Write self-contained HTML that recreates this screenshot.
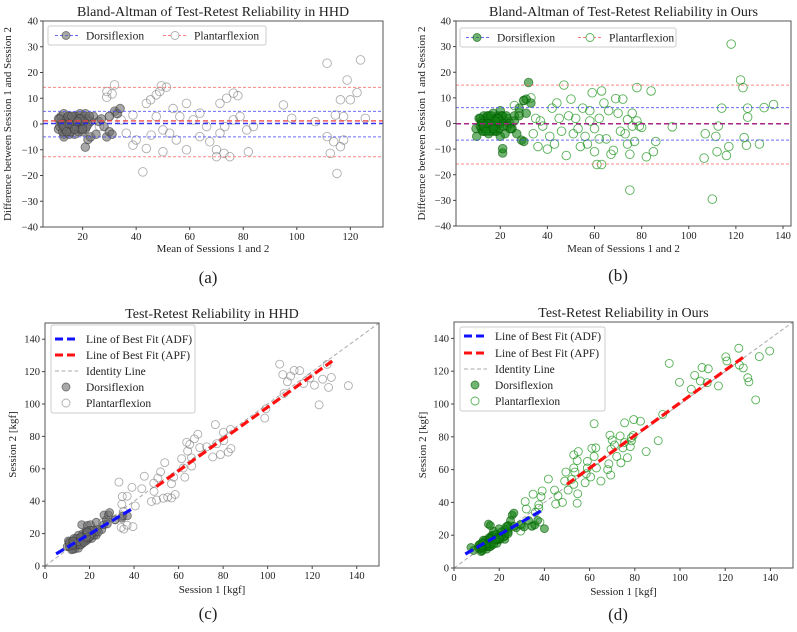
<!DOCTYPE html>
<html><head><meta charset="utf-8">
<style>
html,body{margin:0;padding:0;background:#fff;}
svg, svg text{font-family:"Liberation Serif","Times New Roman",serif;}
svg text{fill:#222;}
</style></head>
<body>
<svg id="fig" width="797" height="627" viewBox="0 0 797 627" font-family="Liberation Serif, serif" xmlns="http://www.w3.org/2000/svg"></svg>
<script>
// ---- HHD data (mean of sessions, difference S1-S2) ----
const hhdDorsiMean=[11,12,12,13,13,13,14,14,15,15,16,16,17,17,18,18,19,19,20,20,21,21,22,22,23,24,26,28,29,30,31,32,33,34,12,14,16,18,20,13,15,17,19,21,23,11,22,30,25,27,11.5,12.5,13.5,14.5,15.5,16.5,17.5,18.5,19.5,20.5,11.5,12.5,13.5,14.5,15.5,16.5,17.5,18.5,19.5,20.5,21.5,22.5,13,15,17,19,14,16,18,20];
const hhdDorsiDiff=[-2,1,3,-4,0,4,-3,2,-1,3,0,-2,2,-4,1,3,-2,4,0,-3,-9,4,-6,2,-5,3,1,-1,-5,-3,-4,5,4,6,0,-1,1,0,2,-5,-4,3,-1,-2,1,2,0,3,-4,2,-1,-3,1,-2,2,-1,0,-3,1,3,2,0,-2,3,-3,1,-1,2,-2,1,-1,3,-1,0,-2,2,-3,3,1,-2];
const hhdPlantMean=[29.1,31.9,29,31,43.8,45.4,47.5,48.8,49.4,51.3,42.5,50,43.8,40,38.8,58.8,53.8,58.8,67.5,70,71.3,73.8,76.3,78,70,75,72.8,81.9,81.3,76.3,66.3,63.8,61.3,56.3,52.5,47.5,45.6,38.8,36.3,34.4,32.5,26.3,30,83.8,78.8,71.3,63.8,55,50,73.1,95,98.1,106.9,111.3,123.8,118.8,116.3,120,122.5,125.6,111.3,112.5,115,116.3,117.5,113.8,114.4,117.5];
const hhdPlantDiff=[12.6,15.2,10.4,11.7,8,9.4,11.3,12.6,14.8,14.3,-18.6,-10.8,-9.5,-6.2,-8.2,8,6,-10,-6.9,-10,8,10,12,11,-12.7,-12.7,-11.4,-10.8,-2.3,1.6,-1,4.2,1.6,2.9,-3.6,2.9,-4.3,3.5,-3.6,1.6,4.2,-1,2.9,-1,2.9,-3.6,-4.9,-6.2,-2.3,-1,7.4,2.2,0.9,23.6,24.9,17.1,9.4,9.4,12.2,2.2,-4.9,-11.4,-19.2,-8.8,-6.2,-6.9,3.5,2.9];
// ---- Ours data ----
const oursDorsiMean=[10,11,12,12,13,13,14,14,15,15,16,16,17,17,18,18,19,19,20,20,21,21,22,22,23,24,25,26,27,28,29,30,30,31,32,33,20,21,9.7,14,16,18,12,15,17,19,23,26,28,31,11.5,12.5,13.5,14.5,15.5,16.5,17.5,18.5,19.5,20.5,11.5,12.5,13.5,14.5,15.5,16.5,17.5,18.5,19.5,20.5,21.5,22.5,24.5,13,15,17,19,14,16,18];
const oursDorsiDiff=[-5,2,-2,1,3,-3,0,2,-4,3,1,-2,4,-1,2,-3,0,3,-5,5,-11.5,-9.8,1,-4,2,0,-2,3,-4,6,-6.5,-7,9,9.5,16,8,0,3,-2,-1,1,-2,0,1,-3,2,-1,1,3,4,-1,-3,1,-2,2,-1,0,-3,1,3,2,0,-2,3,-3,1,-1,2,-2,1,-1,3,-2,-1,0,-2,2,-3,3,1];
const oursPlantMean=[47,45,42,40,44,48,50,52,54,55,56,58,59,60,61,62,63,63,64,65,67,68,69,70,72,73,74,75,75,76,77,78,78,79,80,82,84,85,86,93,106.5,107,110,111.5,112,112.5,114,116,117,118,122,123,123.5,124.5,125,125,130,132,136,35,36,37,38,41,43,46,49,51,53,57,58,60,62,66,71,74,76,30,33,34,28,26,24];
const oursPlantDiff=[15,2,6,-10,8,-12.5,9.5,2,-9,6,-5,5,12,-11,-16,2,12.7,-16,8,-6,-12,-10.5,9.7,4,9.5,-4,1.5,-12,-26,4,-7,14,1,-1,-1.5,-13,12.7,-11,-7,-1.3,-13.5,-4,-29.5,-5,-11,-1,6,-12.5,-9,31,17,14,-5.5,-8.5,6,2.5,-8,6.2,7.4,2,-9,1,-1,-5,-8,-3,3,-4,-2,-8,1,-2,-6,5,-3,-8,-1,9,10,-4,4,7,-2];
// limits of agreement / means [dorsiMean, dorsiUp, dorsiLo, plantMean, plantUp, plantLo]
const hhdLines=[0.2,4.9,-5.0,1.2,14.2,-12.7];
const oursLines=[-0.1,6.2,-6.5,-0.1,15.0,-15.8];
// best fit lines [x0,y0,x1,y1]
const hhdFitADF=[5,7.5,40,36];
const hhdFitAPF=[50,49,129,126.5];
const oursFitADF=[5,8.5,40,36];
const oursFitAPF=[50,51,128,128.5];
const baTicksY=[-40,-30,-20,-10,0,10,20,30,40];
const baTicksXa=[20,40,60,80,100,120];
const baTicksXb=[20,40,60,80,100,120,140];
const scTicks=[0,20,40,60,80,100,120,140];

const NS="http://www.w3.org/2000/svg";
const FONT='"Liberation Serif", "Times New Roman", serif';
const svg=document.getElementById('fig');
function el(tag,attrs,parent,txt){const e=document.createElementNS(NS,tag);for(const k in attrs)e.setAttribute(k,attrs[k]);if(tag==='text')e.style.fontFamily=FONT;if(txt!==undefined)e.textContent=txt;(parent||svg).appendChild(e);return e;}

function panel(cfg){
  const g=el('g',{});
  
  
  const X=v=>cfg.L+(v-cfg.x0)*(cfg.R-cfg.L)/(cfg.x1-cfg.x0);
  const Y=v=>cfg.B-(v-cfg.y0)*(cfg.B-cfg.T)/(cfg.y1-cfg.y0);
  const clipId='clip'+cfg.name;
  const cp=el('clipPath',{id:clipId},g);el('rect',{x:cfg.L,y:cfg.T,width:cfg.R-cfg.L,height:cfg.B-cfg.T},cp);
  const pl=el('g',{'clip-path':'url(#'+clipId+')'},g);
  
  
  return {g,pl,X,Y};
}
function axesFrame(cfg,p,xt,yt){
  const fr=el('rect',{x:cfg.L,y:cfg.T,width:cfg.R-cfg.L,height:cfg.B-cfg.T,fill:'none',stroke:'#555','stroke-width':1},p.g);
  
  
  xt.forEach(v=>{const x=p.X(v);el('line',{x1:x,x2:x,y1:cfg.B,y2:cfg.B+3,stroke:'#444'},p.g);
    const t=el('text',{x:x,y:cfg.B+13,'text-anchor':'middle','font-size':10.5},p.g,String(v));
    
    });
  yt.forEach(v=>{const y=p.Y(v);el('line',{x1:cfg.L-3,x2:cfg.L,y1:y,y2:y,stroke:'#444'},p.g);
    const t=el('text',{x:cfg.L-5,y:y+3.5,'text-anchor':'end','font-size':10.5},p.g,v<0?'\u2212'+(-v):String(v));
    
    });
  const ti=el('text',{x:(cfg.L+cfg.R)/2,y:cfg.T-5,'text-anchor':'middle','font-size':14},p.g,cfg.title);
  
  
  const xl=el('text',{x:(cfg.L+cfg.R)/2,y:cfg.xlY,'text-anchor':'middle','font-size':11},p.g,cfg.xlabel);
  
  
  const yl=el('text',{x:0,y:0,'text-anchor':'middle','font-size':11,transform:'translate('+cfg.ylX+','+((cfg.T+cfg.B)/2)+') rotate(-90)'},p.g,cfg.ylabel);
  
  
  const sl=el('text',{x:cfg.subX,y:cfg.subY,'text-anchor':'middle','font-size':17},p.g,cfg.sub);
  
  
}
function hline(p,cfg,v,color,w,dash,op){el('line',{x1:cfg.L,x2:cfg.R,y1:p.Y(v),y2:p.Y(v),stroke:color,'stroke-width':w,'stroke-dasharray':dash,opacity:op},p.pl);}
function dot(parent,x,y,fill,stroke,name,r){
  const c=el('circle',{cx:x,cy:y,r:r||4.3,fill:fill,stroke:stroke,'stroke-width':0.9},parent);
  
  
}

function baPanel(cfg,dm,dd,pm,pd,lines,dFill,dStroke,pStroke){
  const p=panel(cfg);
  pm.forEach((m,i)=>dot(p.pl,p.X(m),p.Y(pd[i]),'none',pStroke,'plantarflexion-point'));
  dm.forEach((m,i)=>dot(p.pl,p.X(m),p.Y(dd[i]),dFill,dStroke,'dorsiflexion-point'));
  hline(p,cfg,lines[1],'#4a4aff',1,'3,2',0.8);hline(p,cfg,lines[2],'#4a4aff',1,'3,2',0.8);
  hline(p,cfg,lines[4],'#ff6a6a',1,'3,2',0.8);hline(p,cfg,lines[5],'#ff6a6a',1,'3,2',0.8);
  hline(p,cfg,lines[3],'#f04040',1.5,'5,3',0.85);
  hline(p,cfg,lines[0],cfg.meanColor,1.5,'5,3',0.9);
  axesFrame(cfg,p,cfg.xt,baTicksY);
  const lg=el('g',{},p.g);
  
  
  const Lg=cfg.leg;
  el('rect',{x:Lg.x,y:Lg.y,width:Lg.w,height:19,rx:2,fill:'#fff',stroke:'#ccc','fill-opacity':0.85},lg);
  const cy=Lg.y+9.5;
  el('line',{x1:Lg.a,x2:Lg.a+25,y1:cy,y2:cy,stroke:'#6a6aff','stroke-dasharray':'3,2'},lg);
  dot(lg,Lg.a+11,cy,dFill,dStroke,'legend-dorsiflexion-marker',4);
  el('text',{x:Lg.a+31,y:cy+4,'font-size':11.5},lg,'Dorsiflexion');
  el('line',{x1:Lg.b,x2:Lg.b+25,y1:cy,y2:cy,stroke:'#ff8080','stroke-dasharray':'3,2'},lg);
  dot(lg,Lg.b+12,cy,'#fff',pStroke,'legend-plantarflexion-marker',4);
  el('text',{x:Lg.b+31,y:cy+4,'font-size':11.5},lg,'Plantarflexion');
}
function scPanel(cfg,dm,dd,pm,pd,adf,apf,dFill,dStroke,pStroke){
  const p=panel(cfg);
  el('line',{x1:p.X(0),y1:p.Y(0),x2:p.X(150),y2:p.Y(150),stroke:'#aaa','stroke-width':1,'stroke-dasharray':'4,2.5'},p.pl);
  pm.forEach((m,i)=>dot(p.pl,p.X(m+pd[i]/2),p.Y(m-pd[i]/2),'none',pStroke,'plantarflexion-point',4));
  dm.forEach((m,i)=>dot(p.pl,p.X(m+dd[i]/2),p.Y(m-dd[i]/2),dFill,dStroke,'dorsiflexion-point',4));
  const f1=el('line',{x1:p.X(adf[0]),y1:p.Y(adf[1]),x2:p.X(adf[2]),y2:p.Y(adf[3]),stroke:'#1010ff','stroke-width':3.2,'stroke-dasharray':'9,4'},p.pl);
  
  
  const f2=el('line',{x1:p.X(apf[0]),y1:p.Y(apf[1]),x2:p.X(apf[2]),y2:p.Y(apf[3]),stroke:'#ff1010','stroke-width':3.2,'stroke-dasharray':'9,4'},p.pl);
  
  
  axesFrame(cfg,p,scTicks,scTicks);
  const lg=el('g',{},p.g);
  
  
  const Lg=cfg.leg;
  el('rect',{x:Lg.x,y:Lg.y,width:Lg.w,height:Lg.h,rx:2,fill:'#fff',stroke:'#ccc','fill-opacity':0.9},lg);
  const ys=Lg.ys, lx=Lg.lx;
  el('line',{x1:lx,x2:lx+23,y1:ys[0],y2:ys[0],stroke:'#1010ff','stroke-width':3,'stroke-dasharray':'8,4'},lg);
  el('line',{x1:lx,x2:lx+23,y1:ys[1],y2:ys[1],stroke:'#ff1010','stroke-width':3,'stroke-dasharray':'8,4'},lg);
  el('line',{x1:lx,x2:lx+23,y1:ys[2],y2:ys[2],stroke:'#aaa','stroke-dasharray':'4,2.5'},lg);
  dot(lg,lx+11,ys[3],dFill,dStroke,'legend-dorsiflexion-marker',4);
  dot(lg,lx+11,ys[4],'#fff',pStroke,'legend-plantarflexion-marker',4);
  ['Line of Best Fit (ADF)','Line of Best Fit (APF)','Identity Line','Dorsiflexion','Plantarflexion'].forEach((t,i)=>{
    const tx=el('text',{x:Lg.tx,y:ys[i]+4,'font-size':11.5},lg,t);
    
    
  });
}

baPanel({name:'panel-a',L:43,R:383,T:21,B:227,x0:5.2,x1:132.2,y0:-40,y1:40,xt:baTicksXa,meanColor:'#2020ff',
  title:'Bland-Altman of Test-Retest Reliability in HHD',xlabel:'Mean of Sessions 1 and 2',ylabel:'Difference between Session 1 and Session 2',
  xlY:252,ylX:11,sub:'(a)',subX:208,subY:283,leg:{x:48,y:26,w:218,a:55,b:163}},
  hhdDorsiMean,hhdDorsiDiff,hhdPlantMean,hhdPlantDiff,hhdLines,'rgba(110,110,110,0.6)','rgba(60,60,60,0.6)','rgba(120,120,120,0.6)');
baPanel({name:'panel-b',L:456,R:791,T:21,B:226,x0:1.2,x1:143.4,y0:-40,y1:40,xt:baTicksXb,meanColor:'#a0208a',
  title:'Bland-Altman of Test-Retest Reliability in Ours',xlabel:'Mean of Sessions 1 and 2',ylabel:'Difference between Session 1 and Session 2',
  xlY:252,ylX:425,sub:'(b)',subX:618,subY:281,leg:{x:460,y:28,w:216,a:466,b:578}},
  oursDorsiMean,oursDorsiDiff,oursPlantMean,oursPlantDiff,oursLines,'rgba(20,130,20,0.6)','rgba(0,90,0,0.6)','rgba(30,150,30,0.75)');
scPanel({name:'panel-c',L:45,R:379,T:323,B:566,x0:0,x1:150,y0:0,y1:150,
  title:'Test-Retest Reliability in HHD',xlabel:'Session 1 [kgf]',ylabel:'Session 2 [kgf]',
  xlY:593,ylX:16,sub:'(c)',subX:208,subY:619,leg:{x:51,y:325,w:144,h:88,ys:[339,355,371,387,403],lx:55,tx:86}},
  hhdDorsiMean,hhdDorsiDiff,hhdPlantMean,hhdPlantDiff,hhdFitADF,hhdFitAPF,'rgba(110,110,110,0.6)','rgba(60,60,60,0.6)','rgba(120,120,120,0.6)');
scPanel({name:'panel-d',L:454,R:793,T:322,B:568,x0:0,x1:150,y0:0,y1:150,
  title:'Test-Retest Reliability in Ours',xlabel:'Session 1 [kgf]',ylabel:'Session 2 [kgf]',
  xlY:595,ylX:426,sub:'(d)',subX:618,subY:620,leg:{x:460,y:327,w:145,h:84,ys:[336,353,369,385,401],lx:464,tx:495}},
  oursDorsiMean,oursDorsiDiff,oursPlantMean,oursPlantDiff,oursFitADF,oursFitAPF,'rgba(20,130,20,0.6)','rgba(0,90,0,0.6)','rgba(30,150,30,0.75)');
</script>
</body></html>
